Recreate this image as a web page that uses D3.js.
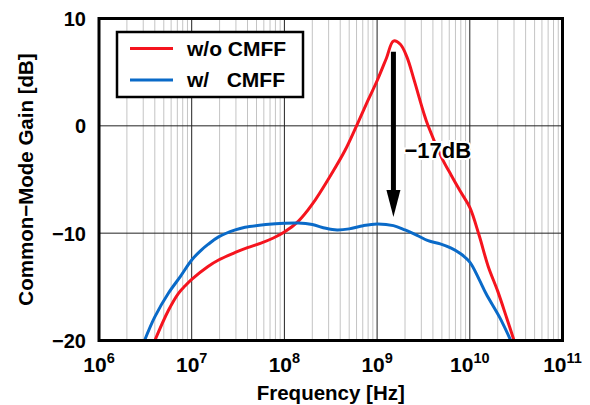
<!DOCTYPE html>
<html>
<head>
<meta charset="utf-8">
<script src="https://cdn.jsdelivr.net/npm/d3@7"></script>
<style>
  body { margin: 0; background: #fff; }
  svg { font-family: "Liberation Sans", Arial, Helvetica, sans-serif; font-weight: bold; }
</style>
</head>
<body>
<svg id="chart" width="590" height="405"></svg>
<script>
// common-mode gain
var freqRed = [4.0e6, 5.6e6, 7.2e6, 8.5e6, 1e7, 1.5e7, 1.95e7, 2.95e7, 4.0e7, 5.5e7, 7.6e7, 1e8, 1.41e8, 2.0e8,
  3.16e8, 4.5e8, 6.0e8, 7.9e8, 1e9, 1.26e9, 1.5e9, 1.78e9, 2.1e9, 2.5e9, 3.16e9,
  3.55e9, 5.0e9, 6.3e9, 7.9e9, 1e10, 1.26e10, 1.58e10, 2.0e10, 2.5e10, 3.0e10];
var gainRed = [-20, -17.2, -15.6, -14.9, -14.3, -13.1, -12.5, -11.8, -11.35, -10.95, -10.45, -9.9, -8.9, -7.3,
  -4.6, -2.3, 0, 2.3, 4.2, 6.3, 7.9, 7.6, 6.4, 4.3, 1.3,
  0, -3.0, -4.6, -6.1, -7.6, -10.2, -13.1, -15.4, -17.9, -20.0];

var freqBlue = [3.1e6, 4.0e6, 5.6e6, 7.6e6, 1e7, 1.26e7, 1.5e7, 1.95e7, 2.95e7, 3.76e7, 6.3e7, 1e8, 1.41e8,
  2.0e8, 2.8e8, 3.7e8, 5.0e8, 7.1e8, 1e9, 1.5e9, 2.0e9, 2.7e9, 3.55e9,
  4.8e9, 6.3e9, 7.9e9, 1e10, 1.26e10, 1.5e10, 2.1e10, 2.8e10];
var gainBlue = [-20, -17.8, -15.6, -14.0, -12.5, -11.6, -11.05, -10.35, -9.7, -9.45, -9.2, -9.07, -9.05,
  -9.2, -9.55, -9.7, -9.6, -9.3, -9.15, -9.3, -9.7, -10.2, -10.7,
  -11.0, -11.4, -11.9, -12.7, -14.3, -15.65, -17.85, -20.1];

var xTicks = [1e6, 1e7, 1e8, 1e9, 1e10, 1e11];
var yTicks = [10, 0, -10, -20];
var legendLabels = ['w/o CMFF', 'w/   CMFF'];
var seriesColors = ['#f5141e', '#0a6ac8'];

var peakFreq = 1.5e9, arrowFrom = 6.9, arrowTo = -8.5;

var svg = d3.select('#chart');
var pL = 99, pR = 562.5, pT = 18.5, pB = 340.5;

var x = d3.scaleLog().domain([1e6, 1e11]).range([pL, pR]);
var y = d3.scaleLinear().domain([-20, 10]).range([pB, pT]);

svg.append('defs').append('clipPath').attr('id', 'plotclip')
  .append('rect')
  .attr('x', pL).attr('y', pT)
  .attr('width', pR - pL).attr('height', pB - pT);

// minor grid
var minor = [];
for (var d = 6; d < 11; d++) {
  for (var k = 2; k <= 9; k++) minor.push(k * Math.pow(10, d));
}
svg.append('g').selectAll('line')
  .data(minor)
  .enter().append('line')
  .attr('x1', function(v) { return x(v); })
  .attr('x2', function(v) { return x(v); })
  .attr('y1', pT).attr('y2', pB)
  .attr('stroke', '#c4c4c4').attr('stroke-width', 1);

// major grid
svg.append('g').selectAll('line')
  .data(xTicks.slice(1, -1))
  .enter().append('line')
  .attr('x1', function(v) { return x(v); })
  .attr('x2', function(v) { return x(v); })
  .attr('y1', pT).attr('y2', pB)
  .attr('stroke', '#222').attr('stroke-width', 1);

svg.append('g').selectAll('line')
  .data(yTicks.slice(1, -1))
  .enter().append('line')
  .attr('x1', pL).attr('x2', pR)
  .attr('y1', function(v) { return y(v); })
  .attr('y2', function(v) { return y(v); })
  .attr('stroke', '#222').attr('stroke-width', 1);

// curves
var line = d3.line()
  .x(function(p) { return x(p[0]); })
  .y(function(p) { return y(p[1]); })
  .curve(d3.curveCatmullRom.alpha(0.5));

var series = [d3.zip(freqRed, gainRed), d3.zip(freqBlue, gainBlue)];

svg.append('g').attr('clip-path', 'url(#plotclip)')
  .selectAll('path')
  .data(series)
  .enter().append('path')
  .attr('d', line)
  .attr('fill', 'none')
  .attr('stroke', function(s, i) { return seriesColors[i]; })
  .attr('stroke-width', 3)
  .attr('stroke-linejoin', 'round');

// arrow  -17dB
var ax = x(peakFreq);
svg.append('line')
  .attr('x1', ax).attr('x2', ax)
  .attr('y1', y(arrowFrom)).attr('y2', y(arrowTo) - 25)
  .attr('stroke', '#000').attr('stroke-width', 5);
svg.append('path')
  .attr('d', 'M' + (ax - 7) + ',' + (y(arrowTo) - 27) + 'L' + (ax + 7) + ',' + (y(arrowTo) - 27) +
    'L' + ax + ',' + y(arrowTo) + 'Z')
  .attr('fill', '#000');

svg.append('text')
  .attr('x', ax + 11).attr('y', 158)
  .attr('font-size', 22)
  .attr('stroke', '#fff').attr('stroke-width', 4)
  .attr('paint-order', 'stroke')
  .attr('fill', '#000')
  .text('\u221217dB');

// frame
svg.append('rect')
  .attr('x', pL).attr('y', pT)
  .attr('width', pR - pL).attr('height', pB - pT)
  .attr('fill', 'none').attr('stroke', '#000').attr('stroke-width', 3);

// legend
var lg = svg.append('g');
lg.append('rect')
  .attr('x', 117).attr('y', 32).attr('width', 186).attr('height', 65)
  .attr('fill', '#fff').attr('stroke', '#000').attr('stroke-width', 2.5);
lg.selectAll('line.key')
  .data(legendLabels)
  .enter().append('line')
  .attr('x1', 130).attr('x2', 173)
  .attr('y1', function(d, i) { return 48.5 + i * 31.5; })
  .attr('y2', function(d, i) { return 48.5 + i * 31.5; })
  .attr('stroke', function(d, i) { return seriesColors[i]; })
  .attr('stroke-width', 3);
lg.selectAll('text')
  .data(legendLabels)
  .enter().append('text')
  .attr('x', 187)
  .attr('y', function(d, i) { return 55.5 + i * 31.5; })
  .attr('font-size', 21)
  .style('white-space', 'pre')
  .text(function(d) { return d; });

// y tick labels
svg.append('g').selectAll('text')
  .data(yTicks)
  .enter().append('text')
  .attr('x', 86)
  .attr('y', function(v) { return y(v) + 7.5; })
  .attr('text-anchor', 'end')
  .attr('font-size', 20)
  .text(function(v) { return v < 0 ? '\u2212' + (-v) : v; });

// x tick labels 10^n
var xl = svg.append('g').selectAll('text')
  .data(xTicks)
  .enter().append('text')
  .attr('x', function(v) { return x(v); })
  .attr('y', 372)
  .attr('text-anchor', 'middle')
  .attr('font-size', 21);
xl.append('tspan').text('10');
xl.append('tspan')
  .attr('dy', -9)
  .attr('font-size', 14.5)
  .text(function(v) { return Math.round(Math.log10(v)); });

// axis titles
svg.append('text')
  .attr('x', (pL + pR) / 2).attr('y', 400)
  .attr('text-anchor', 'middle')
  .attr('font-size', 20.5)
  .text('Frequency [Hz]');

svg.append('text')
  .attr('transform', 'translate(33,' + ((pT + pB) / 2) + ') rotate(-90)')
  .attr('text-anchor', 'middle')
  .attr('font-size', 20.5)
  .text('Common\u2212Mode Gain [dB]');
</script>
</body>
</html>
